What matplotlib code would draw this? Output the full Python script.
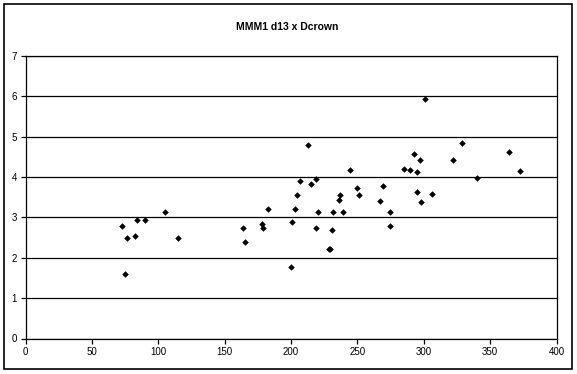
import matplotlib
matplotlib.use("Agg")
import matplotlib.pyplot as plt
from matplotlib.patches import Rectangle

title = "MMM1 d13 x Dcrown"
x_ticks = [0, 50, 100, 150, 200, 250, 300, 350, 400]
y_ticks = [0, 1, 2, 3, 4, 5, 6, 7]

dcrown = [72.7, 75.0, 76.5, 82.5, 83.8, 90.1, 105.1, 114.9, 163.9, 165.7,
          177.8, 179.0, 182.8, 200.1, 200.9, 203.1, 204.2, 206.9, 212.9, 214.7,
          219.0, 219.0, 220.5, 228.6, 229.6, 231.0, 231.8, 235.8, 237.0, 239.3,
          244.6, 249.9, 250.9, 267.2, 269.4, 274.5, 274.7, 285.0, 290.0, 292.3,
          295.1, 295.1, 297.3, 298.3, 301.3, 306.1, 322.4, 328.5, 340.3, 363.9,
          372.7]
d13 = [2.79, 1.59, 2.48, 2.53, 2.93, 2.93, 3.14, 2.48, 2.73, 2.38,
       2.83, 2.73, 3.20, 1.78, 2.88, 3.20, 3.55, 3.90, 4.79, 3.84,
       3.95, 2.73, 3.14, 2.23, 2.21, 2.70, 3.14, 3.43, 3.55, 3.14,
       4.18, 3.74, 3.55, 3.40, 3.78, 3.14, 2.79, 4.19, 4.18, 4.58,
       4.13, 3.63, 4.43, 3.39, 5.93, 3.57, 4.43, 4.84, 3.97, 4.63,
       4.14]

W, H = 577, 374
fig = plt.figure(figsize=(W / 100, H / 100), dpi=100)
fig.patch.set_facecolor("white")
plt.rcParams['font.family'] = ['Liberation Sans', 'DejaVu Sans']

left, right, top, bottom = 25.5, 556.5, 56.0, 338.5
ax = fig.add_axes([left / W, 1 - bottom / H, (right - left) / W, (bottom - top) / H])
ax.set_xlim(0, 400)
ax.set_ylim(0, 7)
ax.set_xticks(x_ticks)
ax.set_yticks(y_ticks)
ax.set_xticklabels([str(t) for t in x_ticks], fontsize=7)
ax.set_yticklabels([str(t) for t in y_ticks], fontsize=7)
ax.tick_params(axis='both', direction='out', length=3.5, width=0.9, color='black', pad=2.5)
ax.yaxis.grid(True, color='black', linewidth=0.9)
ax.set_axisbelow(True)
for s in ax.spines.values():
    s.set_color('black')
    s.set_linewidth(0.9)

ax.plot(dcrown, d13, linestyle='none', marker='D', markersize=2.9,
        color='black', markeredgewidth=0.4, zorder=3)

fig.text(287 / W, 1 - 27 / H, title, ha='center', va='center',
         fontsize=7.5, fontweight='bold')

fig.patches.append(Rectangle((4.3 / W, 1 - 369 / H), (572 - 4.3) / W, (369 - 4.3) / H,
                             fill=False, edgecolor='black', linewidth=1.2,
                             transform=fig.transFigure, figure=fig))

fig.savefig("out.png", dpi=100, facecolor='white')
